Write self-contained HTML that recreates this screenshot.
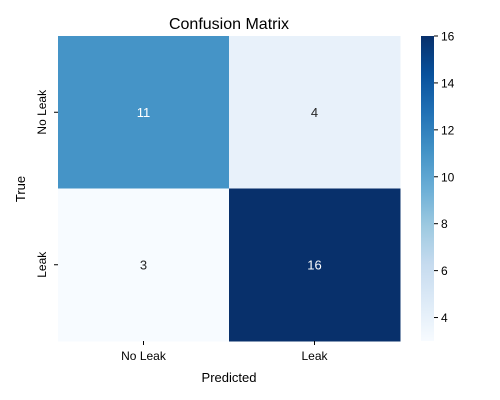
<!DOCTYPE html>
<html><head><meta charset="utf-8"><style>
body{margin:0;background:#fff;}
svg{display:block;font-family:"Liberation Sans","DejaVu Sans",sans-serif;}
</style></head><body>
<svg id="chart" width="500" height="400">
<defs><linearGradient id="cbgrad" x1="0" y1="1" x2="0" y2="0">
<stop offset="0" stop-color="#f7fbff"/><stop offset="0.125" stop-color="#deebf7"/><stop offset="0.25" stop-color="#c6dbef"/><stop offset="0.375" stop-color="#9ecae1"/><stop offset="0.5" stop-color="#6baed6"/><stop offset="0.625" stop-color="#4292c6"/><stop offset="0.75" stop-color="#2171b5"/><stop offset="0.875" stop-color="#08519c"/><stop offset="1" stop-color="#08306b"/>
</linearGradient></defs>
<text x="229" y="29" text-anchor="middle" font-size="16" fill="#000">Confusion Matrix</text>
<g id="cells"></g>
<text x="229" y="382" text-anchor="middle" font-size="13">Predicted</text>
<text transform="translate(25,189) rotate(-90)" text-anchor="middle" font-size="13">True</text>
<rect x="421" y="36" width="13" height="305" fill="url(#cbgrad)"/>
<g id="cbticks"></g>
</svg>
<script>
const labels = ["No Leak", "Leak"];
const matrix = [[11, 4], [3, 16]];
const cbTicks = [4, 6, 8, 10, 12, 14, 16];
const vmin = 3, vmax = 16;

const NS = "http://www.w3.org/2000/svg";
const X0 = 58, Y0 = 36, W = 342, H = 305;
const stops = ["#f7fbff","#deebf7","#c6dbef","#9ecae1","#6baed6","#4292c6","#2171b5","#08519c","#08306b"];
function hex(c){return [1,3,5].map(i=>parseInt(c.substr(i,2),16));}
function cmap(v){
  let t=(v-vmin)/(vmax-vmin); t=Math.max(0,Math.min(1,t));
  const p=t*(stops.length-1), i=Math.min(Math.floor(p),stops.length-2), f=p-i;
  const a=hex(stops[i]), b=hex(stops[i+1]);
  return "rgb("+a.map((x,k)=>Math.round(x+(b[k]-x)*f)).join(",")+")";
}
function el(tag, attrs, parent){const e=document.createElementNS(NS,tag);for(const k in attrs)e.setAttribute(k,attrs[k]);parent.appendChild(e);return e;}
const n = labels.length, cw = W/n, ch = H/n;
const cells = document.getElementById("cells");
const svg = document.getElementById("chart");
matrix.forEach((row, r) => row.forEach((v, c) => {
  const rect = el("rect", {x:X0+c*cw, y:Y0+r*ch, width:cw+0.5, height:ch+0.5, fill:cmap(v)}, cells);
  
  
  const t = el("text", {x:X0+c*cw+cw/2, y:Y0+r*ch+ch/2+4.5, "text-anchor":"middle", "font-size":"13", fill:((v-vmin)/(vmax-vmin)>0.5?"#fff":"#262626")}, cells);
  t.textContent = v;
  
  
}));
labels.forEach((lab, i) => {
  const cx = X0+i*cw+cw/2;
  el("line", {x1:cx, x2:cx, y1:Y0+H, y2:Y0+H+4, stroke:"#000"}, svg);
  const t = el("text", {x:cx, y:Y0+H+19, "text-anchor":"middle", "font-size":"12"}, svg);
  t.textContent = lab;
  
  
  const cy = Y0+i*ch+ch/2;
  el("line", {x1:X0-4, x2:X0, y1:cy, y2:cy, stroke:"#000"}, svg);
  const ty = el("text", {transform:"translate("+(X0-12)+","+cy+") rotate(-90)", "text-anchor":"middle", "font-size":"12"}, svg);
  ty.textContent = lab;
  
  
});
const cbt = document.getElementById("cbticks");
cbTicks.forEach(v => {
  const y = Y0 + H - (v-vmin)/(vmax-vmin)*H;
  el("line", {x1:434, x2:438, y1:y, y2:y, stroke:"#000"}, cbt);
  const t = el("text", {x:441, y:y+4.5, "font-size":"12"}, cbt);
  t.textContent = v;
  
  
});
</script>
</body></html>
